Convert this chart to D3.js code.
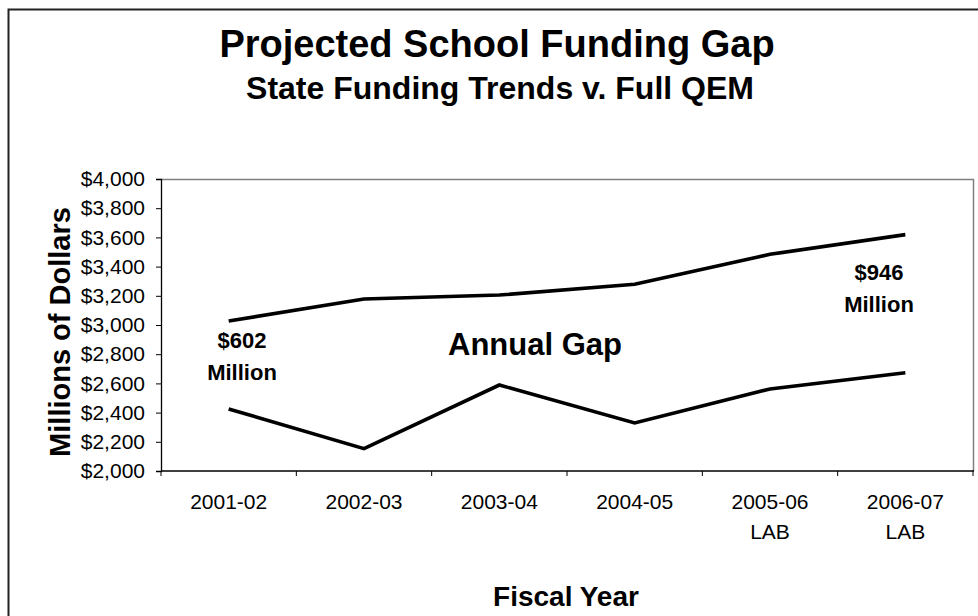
<!DOCTYPE html>
<html>
<head>
<meta charset="utf-8">
<script src="https://cdn.jsdelivr.net/npm/d3@7"></script>
<style>
  html, body { margin: 0; padding: 0; background: #fff; }
  svg { display: block; font-family: "Liberation Sans", Arial, sans-serif; }
</style>
</head>
<body>
<svg id="chart" width="978" height="616"></svg>
<script>
const categories = ["2001-02", "2002-03", "2003-04", "2004-05", "2005-06", "2006-07"];
const subLabels = ["", "", "", "", "LAB", "LAB"];
const fullQEM = [3027, 3178, 3205, 3279, 3484, 3619];
const stateFunding = [2425, 2153, 2589, 2329, 2562, 2673];
const yTicks = [2000, 2200, 2400, 2600, 2800, 3000, 3200, 3400, 3600, 3800, 4000];

const svg = d3.select("#chart");
const plot = { left: 161, right: 973, top: 179, bottom: 471 };

// outer frame (right/bottom edges run off the picture)
svg.append("rect")
  .attr("x", 8.5).attr("y", 9.5).attr("width", 1100).attr("height", 800)
  .attr("fill", "none").attr("stroke", "#222").attr("stroke-width", 2);

const x = d3.scaleBand().domain(categories).range([plot.left, plot.right]).padding(0);
const y = d3.scaleLinear().domain([2000, 4000]).range([plot.bottom, plot.top]);
const cx = c => x(c) + x.bandwidth() / 2;

// plot frame top & right (gray)
svg.append("path")
  .attr("d", `M${plot.left},${plot.top + 0.5}H${plot.right + 0.5}V${plot.bottom}`)
  .attr("fill", "none").attr("stroke", "#808080").attr("stroke-width", 1.5);

// y axis
const yAxis = d3.axisLeft(y).tickValues(yTicks).tickSize(5).tickPadding(11)
  .tickFormat(d => "$" + d3.format(",")(d));
const gy = svg.append("g").attr("transform", `translate(${plot.left},0)`).call(yAxis);
gy.select(".domain").attr("stroke", "#000").attr("stroke-width", 1.3);
gy.selectAll(".tick line").attr("stroke", "#000");
gy.selectAll(".tick text").attr("font-size", 21).attr("fill", "#000")
  .attr("font-family", "'Liberation Sans', Arial, sans-serif");

// x axis (ticks at category boundaries)
const gx = svg.append("g").attr("transform", `translate(0,${plot.bottom})`);
gx.append("line").attr("x1", plot.left).attr("x2", plot.right + 1)
  .attr("stroke", "#000").attr("stroke-width", 1.3);
const bounds = categories.map(c => x(c)).concat([x(categories[categories.length - 1]) + x.bandwidth()]);
gx.selectAll("line.tk").data(bounds).enter().append("line").attr("class", "tk")
  .attr("x1", d => d).attr("x2", d => d).attr("y1", 0).attr("y2", 5)
  .attr("stroke", "#000");
gx.selectAll("text.cat").data(categories).enter().append("text").attr("class", "cat")
  .attr("x", d => cx(d)).attr("y", 38).attr("text-anchor", "middle")
  .attr("font-size", 21).text(d => d);
gx.selectAll("text.sub").data(categories.map((c, i) => ({ c, s: subLabels[i] })))
  .enter().append("text").attr("class", "sub")
  .attr("x", d => cx(d.c)).attr("y", 68).attr("text-anchor", "middle")
  .attr("font-size", 21).text(d => d.s);

// lines
const line = d3.line().x((d, i) => cx(categories[i])).y(d => y(d));
[fullQEM, stateFunding].forEach(s => {
  svg.append("path").datum(s).attr("d", line)
    .attr("fill", "none").attr("stroke", "#000").attr("stroke-width", 3.6)
    .attr("stroke-linejoin", "miter");
});

// titles
svg.append("text").attr("x", 497).attr("y", 57).attr("text-anchor", "middle")
  .attr("font-size", 38).attr("font-weight", "bold").text("Projected School Funding Gap");
svg.append("text").attr("x", 500).attr("y", 99).attr("text-anchor", "middle")
  .attr("font-size", 32).attr("font-weight", "bold").text("State Funding Trends v. Full QEM");

// axis titles
svg.append("text").attr("transform", "translate(70,332) rotate(-90)")
  .attr("text-anchor", "middle").attr("font-size", 29).attr("font-weight", "bold")
  .text("Millions of Dollars");
svg.append("text").attr("x", 566).attr("y", 606).attr("text-anchor", "middle")
  .attr("font-size", 28).attr("font-weight", "bold").text("Fiscal Year");

// annotations
svg.append("text").attr("x", 535).attr("y", 355).attr("text-anchor", "middle")
  .attr("font-size", 31).attr("font-weight", "bold").text("Annual Gap");
function note(xc, yb, amount) {
  svg.append("text").attr("x", xc).attr("y", yb).attr("text-anchor", "middle")
    .attr("font-size", 22).attr("font-weight", "bold").text("$" + amount);
  svg.append("text").attr("x", xc).attr("y", yb + 32).attr("text-anchor", "middle")
    .attr("font-size", 22).attr("font-weight", "bold").text("Million");
}
note(242, 348, fullQEM[0] - stateFunding[0]);
note(879, 280, fullQEM[5] - stateFunding[5] + 0);
</script>
</body>
</html>
